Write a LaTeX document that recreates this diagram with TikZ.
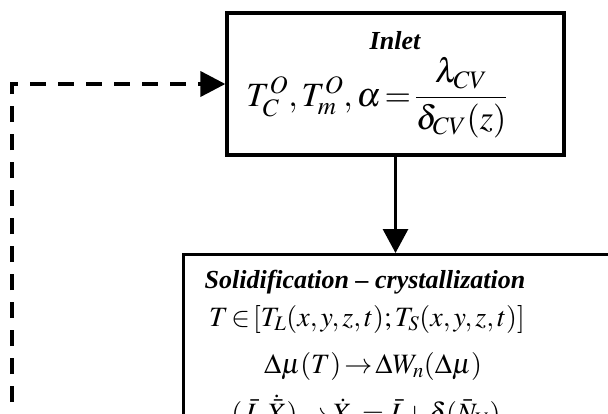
\documentclass[tikz,border=0pt]{standalone}
\usepackage{mathptmx}
\usepackage{fontspec}
\setmainfont{Liberation Serif}
\usetikzlibrary{arrows.meta}
\thickmuskip=2mu
\medmuskip=2mu

\begin{document}
\begin{tikzpicture}[x=1pt,y=-1pt,
  block/.style={draw, line width=3.3pt, inner sep=0pt},
  flow/.style={line width=3pt, -{Triangle[length=24pt,width=25pt]}},
  feedback/.style={line width=4pt, dash pattern=on 16pt off 12pt, -{Triangle[length=25pt,width=25pt]}},
  title/.style={anchor=base, font=\fontsize{26}{30}\selectfont\bfseries\itshape},
  eq/.style={anchor=base, font=\fontsize{28}{32}\selectfont}]
  \useasboundingbox (0,0) rectangle (608,413);
  \clip (0,0) rectangle (608,413);
  % boxes
  \node[block, minimum width=337pt, minimum height=142pt] (inlet) at (395.5,84) {};
  \node[block, minimum width=460pt, minimum height=260pt, anchor=north west] (solid) at (182,253) {};
  % inlet text
  \node[title] (inlettitle) at (395,49) {Inlet};
  \node[anchor=base, font=\fontsize{34}{40}\selectfont] (inleteq) at (377,106)
    {$T_C^O, T_m^O, \alpha = \displaystyle\frac{\lambda_{CV}}{\delta_{CV}(z)}$};
  % solidification text
  \node[title] (solidtitle) at (365,288) {Solidification -- crystallization};
  \node[eq] (range) at (367,326) {$T\in[T_L(x,y,z,t);T_S(x,y,z,t)]$};
  \node[eq] (drive) at (373,373) {$\Delta\mu(T)\rightarrow\Delta W_n(\Delta\mu)$};
  \node[eq] (rate) at (366,422) {$(\bar{J},\dot{\bar{X}})\rightarrow\dot{X}_n=\bar{J}+\delta(\bar{N}_V)$};
  % connectors
  \coordinate (loop) at (12,430);
  \draw[flow] (inlet.south) -- (inlet.south |- solid.north);
  \draw[feedback] (loop) |- (inlet.west);
\end{tikzpicture}
\end{document}
